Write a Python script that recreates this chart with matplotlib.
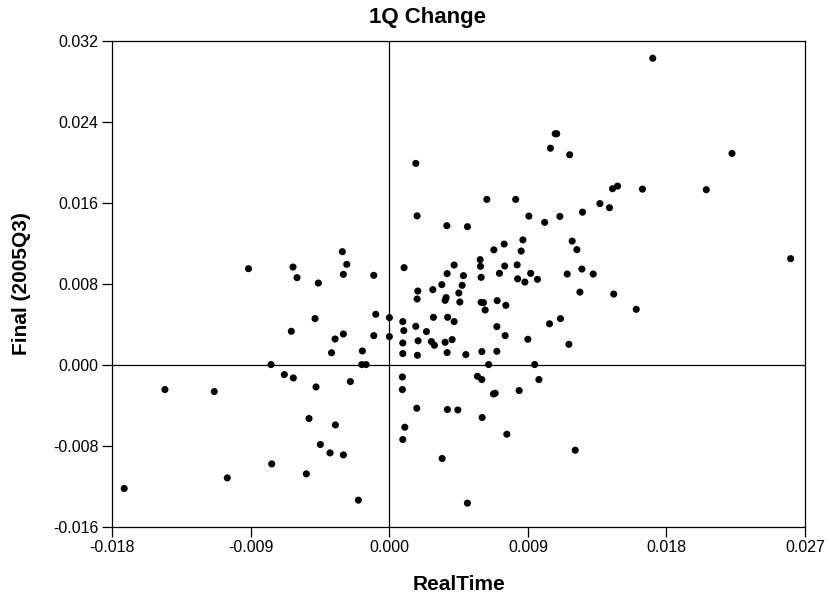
import matplotlib
matplotlib.use("Agg")
import matplotlib.pyplot as plt
import numpy as np

plt.rcParams['font.family'] = ['Liberation Sans', 'DejaVu Sans']

title = "1Q Change"
x_label = "RealTime"
y_label = "Final (2005Q3)"

x_ticks = [-0.018, -0.009, 0.000, 0.009, 0.018, 0.027]
y_ticks = [-0.016, -0.008, 0.000, 0.008, 0.016, 0.024, 0.032]

realtime = [
    -0.017225, -0.014580, -0.011375, -0.010530, -0.009152, -0.007690, -0.007644, -0.006825,
    -0.006370, -0.006260, -0.006240, -0.006000, -0.005395, -0.005220, -0.004830, -0.004765,
    -0.004615, -0.004485, -0.003855, -0.003757, -0.003530, -0.003510, -0.003055, -0.002990,
    -0.002990, -0.002990, -0.002769, -0.002535, -0.002015, -0.001794, -0.001515, -0.001755,
    -0.001014, -0.000884, -0.001014, 0.000000, 0.000000, 0.000845, 0.000845, 0.000871,
    0.000936, 0.000871, 0.000871, 0.000956, 0.001001, 0.000871, 0.001716, 0.001801,
    0.001716, 0.001781, 0.001846, 0.001801, 0.001866, 0.001820, 0.002405, 0.002730,
    0.002925, 0.002821, 0.002860, 0.003406, 0.003426, 0.003621, 0.003686, 0.003621,
    0.003731, 0.003751, 0.003751, 0.003783, 0.003770, 0.004076, 0.004206, 0.004206,
    0.004446, 0.004511, 0.004576, 0.004726, 0.004810, 0.004966, 0.005070, 0.005070,
    0.005720, 0.005896, 0.005915, 0.005961, 0.005961, 0.006110, 0.006006, 0.006006,
    0.006026, 0.006221, 0.006331, 0.006448, 0.006786, 0.006760, 0.006871, 0.006981,
    0.006981, 0.007001, 0.007150, 0.007456, 0.007488, 0.007566, 0.007521, 0.007631,
    0.008203, 0.008301, 0.008333, 0.008431, 0.008561, 0.008671, 0.008801, 0.008996,
    0.009061, 0.009178, 0.009438, 0.009620, 0.009711, 0.010088, 0.010400, 0.010459,
    0.010771, 0.010868, 0.011076, 0.011115, 0.011551, 0.011661, 0.011713, 0.011876,
    0.012071, 0.012181, 0.012376, 0.012506, 0.012545, 0.013241, 0.013676, 0.014300,
    0.014495, 0.014573, 0.014820, 0.016036, 0.016439, 0.017108, 0.020586, 0.022256,
    0.026065,
]

final = [
    -0.012241, -0.002468, -0.002665, -0.011195, 0.009477, 0.000000, -0.009813, -0.000987,
    0.003287, 0.009635, -0.001323, 0.008589, -0.010800, -0.005331, 0.004541, -0.002211,
    0.008056, -0.007898, -0.008727, 0.001165, 0.002527, -0.005963, 0.011155, 0.008914,
    0.003021, -0.008924, 0.009902, -0.001678, -0.013396, 0.000000, 0.000000, 0.001343,
    0.008816, 0.004966, 0.002863, 0.004640, 0.002764, -0.001224, -0.002468, 0.004245,
    0.003356, 0.002132, 0.001086, 0.009576, -0.006190, -0.007404, 0.019872, 0.014690,
    0.003781, -0.004314, 0.007266, 0.006476, 0.002350, 0.000918, 0.003258, 0.002271,
    0.001905, 0.007404, 0.004669, 0.007898, -0.009280, 0.002201, 0.006614, 0.006348,
    0.013722, 0.008984, 0.001185, 0.004669, -0.004442, 0.002468, 0.009833, 0.004245,
    -0.004482, 0.007068, 0.006180, 0.007828, 0.008786, 0.000987, 0.013623, -0.013692,
    -0.001155, 0.010366, 0.009704, 0.008618, 0.006150, 0.006121, 0.001283, -0.001481,
    -0.005232, 0.005390, 0.016319, 0.000000, 0.011333, -0.002902, -0.002833, 0.003751,
    0.001313, 0.006318, 0.009013, 0.011906, 0.009734, 0.005854, 0.002863, -0.006881,
    0.016319, 0.009852, 0.008470, -0.002567, 0.011214, 0.012320, 0.008154, 0.002498,
    0.014670, 0.009013, 0.000000, 0.008421, -0.001481, 0.014048, 0.004028, 0.021373,
    0.022804, 0.022804, 0.014640, 0.004541, 0.008944, 0.002004, 0.020731, 0.012202,
    -0.008460, 0.011353, 0.007157, 0.009438, 0.015055, 0.008944, 0.015904, 0.015499,
    0.017374, 0.006969, 0.017631, 0.005459, 0.017335, 0.030267, 0.017275, 0.020859,
    0.010464,
]

fig = plt.figure(figsize=(8.30, 5.99), dpi=100)
ax = fig.add_axes([0.1353, 0.1210, 0.8346, 0.8111])

ax.axhline(0, color='black', linewidth=0.9, zorder=1)
ax.axvline(0, color='black', linewidth=0.9, zorder=1)
ax.scatter(realtime, final, s=26, color='black', edgecolors='none', zorder=3)

ax.set_xlim(x_ticks[0], x_ticks[-1])
ax.set_ylim(y_ticks[0], y_ticks[-1])
ax.set_xticks(x_ticks)
ax.set_yticks(y_ticks)
ax.set_xticklabels([f"{t:.3f}" for t in x_ticks])
ax.set_yticklabels([f"{t:.3f}" for t in y_ticks])
ax.tick_params(direction='out', length=7, width=0.9, labelsize=11.5, pad=3)
for s in ax.spines.values():
    s.set_linewidth(0.9)

fig.text(427 / 830, 1 - 18 / 599, title, fontsize=16, fontweight='bold',
         ha='center', va='center')
ax.set_xlabel(x_label, fontsize=15, fontweight='bold')
ax.xaxis.set_label_coords(0.5, -(584 - 526.5) / 486)
ax.xaxis.label.set_va('center')
ax.set_ylabel(y_label, fontsize=15, fontweight='bold')
ax.yaxis.set_label_coords(-(112.3 - 22) / 692.7, (526.5 - 283) / 486)
ax.yaxis.label.set_va('center')

fig.savefig("out.png", dpi=100)
